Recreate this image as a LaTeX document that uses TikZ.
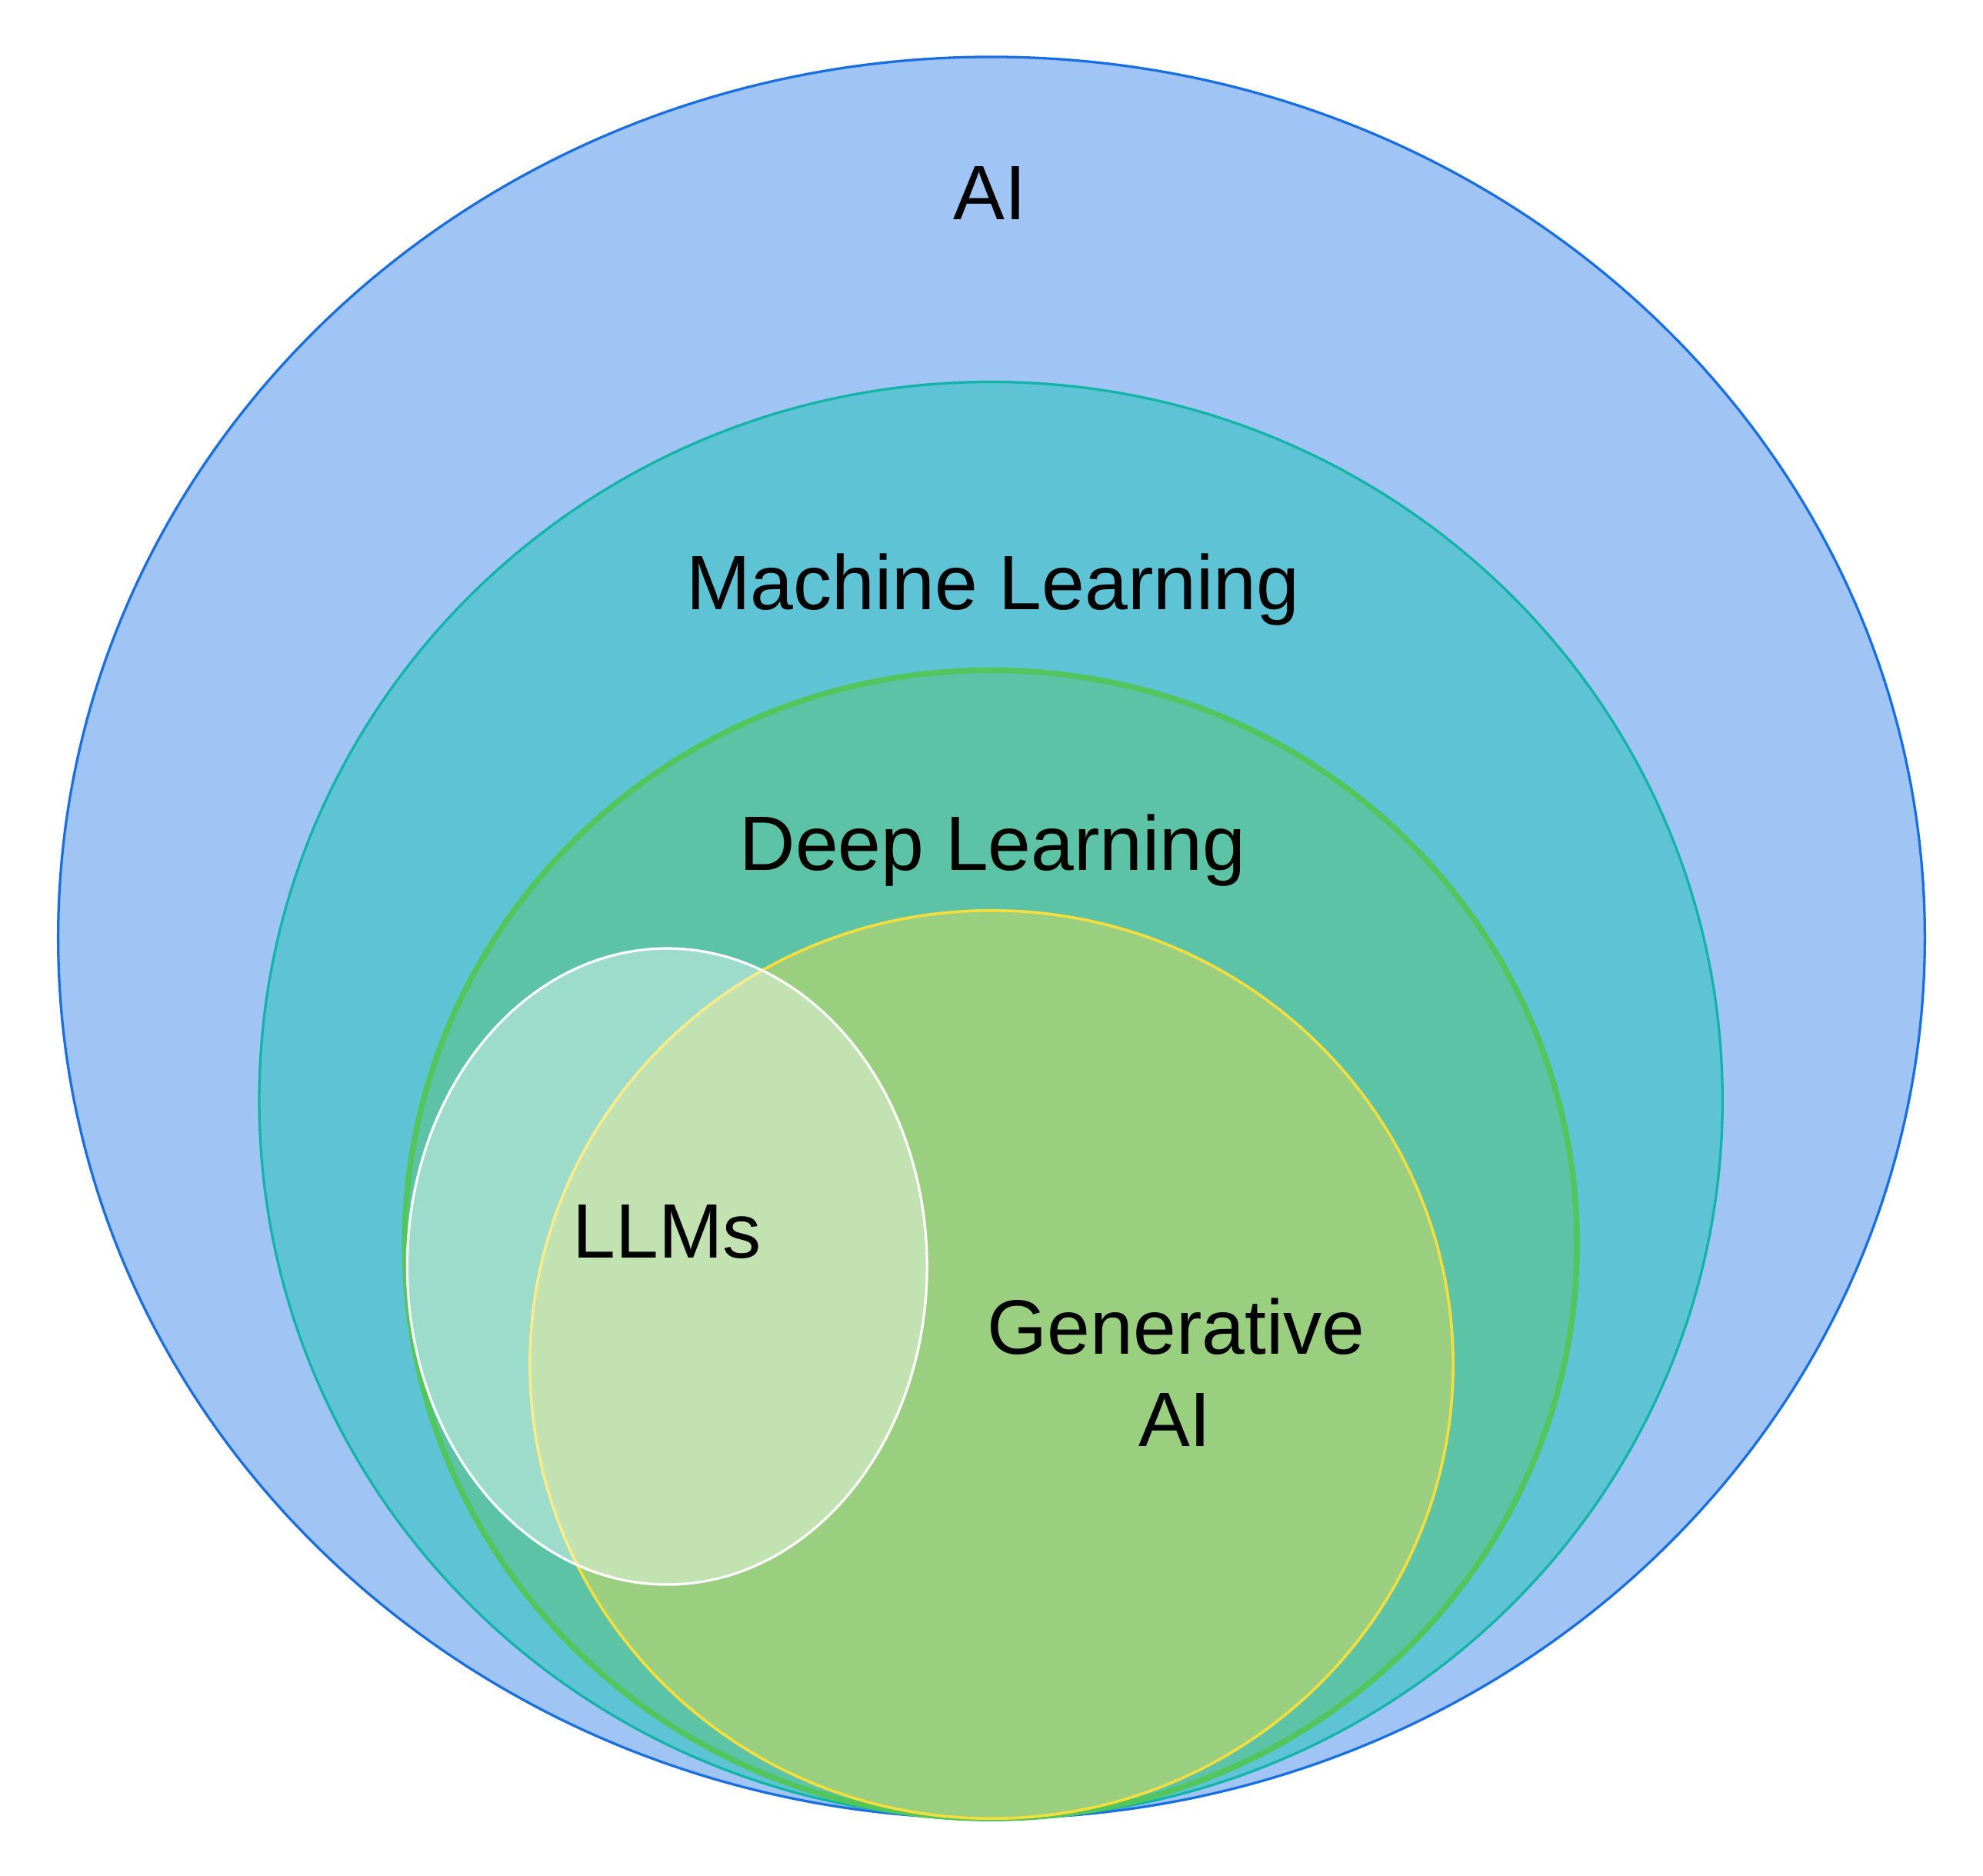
\documentclass[tikz,border=0pt]{standalone}
\usepackage{fontspec}
\setmainfont{Liberation Sans}
\usetikzlibrary{shapes.geometric}

\definecolor{aiFill}{HTML}{A0C5F4}
\definecolor{aiLine}{HTML}{1A6FE0}
\definecolor{mlFill}{HTML}{5EC4D5}
\definecolor{mlLine}{HTML}{14B3A8}
\definecolor{dlFill}{HTML}{5DC3A7}
\definecolor{dlLine}{HTML}{52C55C}
\definecolor{genFill}{HTML}{9BCF80}
\definecolor{genLine}{HTML}{F5DE3C}

\tikzset{
  region/.style={ellipse, inner sep=0pt, outer sep=0pt},
  label text/.style={anchor=base, inner sep=0pt, font=\fontsize{61}{74}\selectfont, text=black, align=center}
}

\begin{document}
\begin{tikzpicture}[x=1pt, y=1pt]
  \useasboundingbox (0,0) rectangle (1568,1483);

  % nested regions, all touching at the bottom
  \node[region, fill=aiFill, draw=aiLine, line width=2pt,
        minimum width=1476pt, minimum height=1393pt] (ai) at (784,741.5) {};
  \node[region, fill=mlFill, draw=mlLine, line width=2pt,
        minimum width=1157pt, minimum height=1136pt] (ml) at (783.5,613) {};
  \node[region, fill=dlFill, draw=dlLine, line width=4.5pt,
        minimum width=927pt, minimum height=908pt] (dl) at (783.5,499) {};
  \node[region, fill=genFill, draw=genLine, line width=2.2pt,
        minimum width=730pt, minimum height=718pt] (gen) at (784,404) {};
  % translucent LLM region over deep learning and generative AI
  \node[region, fill=white, fill opacity=0.4, draw=white, draw opacity=1, line width=2pt,
        minimum width=411pt, minimum height=503pt] (llm) at (527.5,481.5) {};

  % labels
  \node[label text] (aiText) at (783,1309.6) {AI};
  \node[label text] (mlText) at (785,1001) {Machine Learning};
  \node[label text] (dlText) at (785,795) {Deep Learning};
  \node[label text] (llmText) at (527.5,488.5) {LLMs};
  \node[label text] (genText) at (930,412) {Generative};
  \node[label text] (genText2) at (929,339.5) {AI};
\end{tikzpicture}
\end{document}
